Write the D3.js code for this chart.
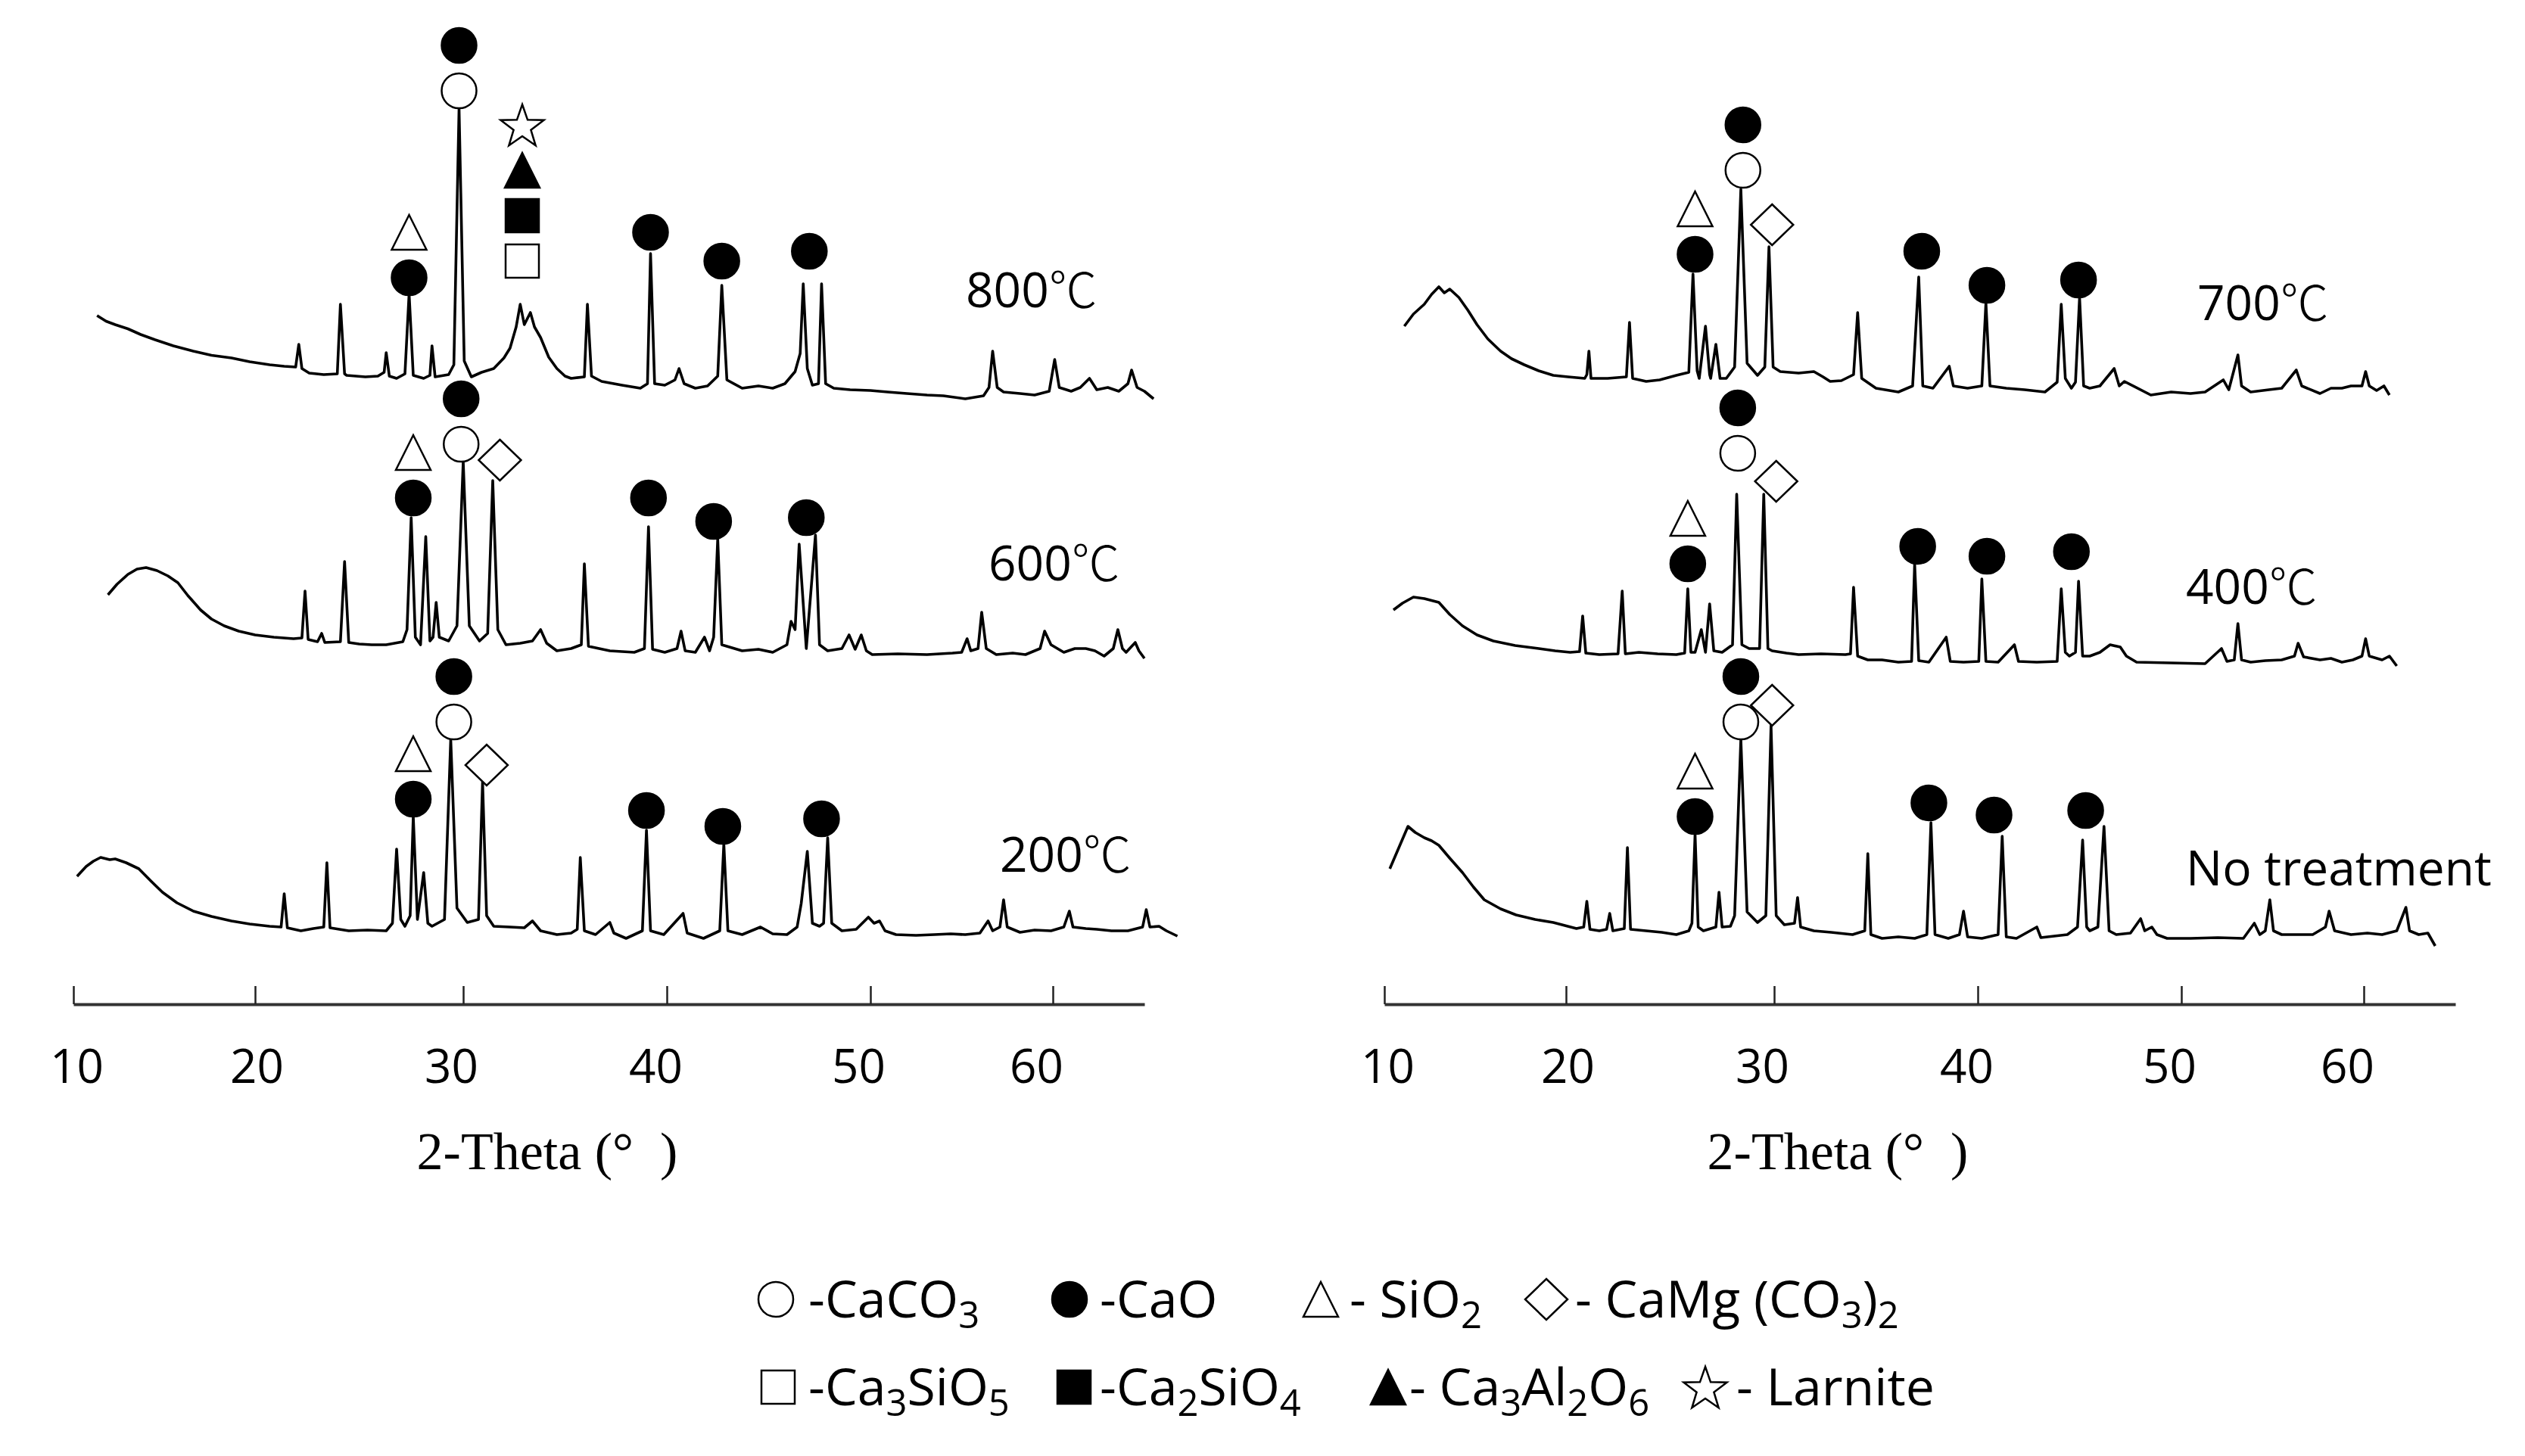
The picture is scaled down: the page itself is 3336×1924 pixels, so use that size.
<!DOCTYPE html>
<html>
<head>
<meta charset="utf-8">
<script src="https://cdn.jsdelivr.net/npm/d3@7"></script>
<style>
  body { margin: 0; background: #fff; }
  text { fill: #000; }
</style>
</head>
<body>
<div id="chart"></div>
<script>
// 2-theta tick labels (both panels share the same axis)
const thetaTicks = [10, 20, 30, 40, 50, 60];

// sample names and vertical offsets (counts) of the stacked patterns
const leftNames = ['800℃', '600℃', '200℃'];
const rightNames = ['700℃', '400℃', 'No treatment'];
const leftOffsets = [1600, 910, 174];
const rightOffsets = [1614, 910, 164];

// patterns: [2-theta, counts above the pattern's own offset]
const trace800 = [[11.3,220],[11.8,205],[12.3,196],[13.0,185],[13.7,170],[14.5,156],[15.5,140],[16.6,126],[17.6,115],[18.7,108],[19.7,98],[20.7,90],[21.4,86],
  [21.95,84],[22.1,144],[22.25,80],[22.6,68],[23.3,64],[23.95,66],[24.1,250],[24.3,66],[24.4,62],[25.3,58],[25.9,60],[26.2,70],[26.3,122],[26.45,60],[26.8,54],[27.2,66],[27.4,278],[27.6,62],[28.1,54],[28.4,62],[28.5,140],[28.65,58],[29.3,64],[29.55,90],[29.8,768],[30.05,100],[30.4,58],[30.9,70],[31.5,80],[32.0,108],[32.3,134],[32.6,190],[32.8,250],[33.0,196],[33.3,228],[33.5,190],[33.8,162],[34.2,110],[34.6,80],[35.0,60],[35.3,54],[35.95,58],[36.1,250],[36.3,60],[36.8,46],[37.8,36],[38.7,28],[39.05,40],[39.2,384],[39.4,40],[39.9,36],[40.4,50],[40.6,80],[40.85,40],[41.4,28],[42.0,34],[42.5,60],[42.7,300],[42.95,50],[43.7,28],[44.5,34],[45.2,28],[45.8,40],[46.3,72],[46.55,120],[46.7,304],[46.9,80],[47.15,36],[47.45,40],[47.6,304],[47.8,40],[48.2,28],[49.0,24],[50.0,22],[50.95,18],[52.0,14],[53.1,10],[54.0,8],[55.2,0],[56.2,8],[56.5,30],[56.7,126],[56.95,30],[57.3,18],[58.2,14],[59.0,10],[59.8,20],[60.1,104],[60.35,30],[61.0,20],[61.5,30],[62.0,54],[62.4,24],[63.0,30],[63.6,20],[64.1,40],[64.3,76],[64.6,30],[65.0,20],[65.5,0]];

const trace600 = [[11.9,172],[12.4,200],[13.0,226],[13.5,240],[14.0,244],[14.6,236],[15.2,222],[15.75,204],[16.3,170],[17.0,132],[17.6,108],[18.3,90],[19.1,76],[20.0,66],[20.9,60],[21.85,56],[22.25,58],[22.4,182],[22.55,54],[23.0,48],[23.2,70],[23.35,46],[24.1,48],[24.3,260],[24.5,46],[25.0,42],[25.6,40],[26.3,40],[27.1,48],[27.3,80],[27.5,376],[27.7,60],[27.95,40],[28.2,326],[28.4,50],[28.55,60],[28.7,152],[28.85,60],[29.3,50],[29.7,90],[30.0,524],[30.3,90],[30.8,50],[31.2,70],[31.45,474],[31.7,80],[32.1,40],[32.8,44],[33.4,50],[33.8,80],[34.1,44],[34.6,24],[35.3,30],[35.8,40],[35.95,254],[36.15,36],[37.2,24],[38.4,20],[38.9,30],[39.1,352],[39.3,28],[39.9,20],[40.5,30],[40.7,76],[40.9,24],[41.4,20],[41.85,60],[42.1,24],[42.3,60],[42.5,320],[42.7,40],[43.7,24],[44.5,28],[45.2,20],[45.9,40],[46.1,102],[46.3,80],[46.5,306],[46.85,30],[47.3,330],[47.5,40],[47.9,24],[48.6,30],[48.95,66],[49.25,28],[49.55,66],[49.8,24],[50.1,14],[51.5,16],[53.1,14],[54.5,18],[55.0,20],[55.3,56],[55.5,24],[55.9,30],[56.1,126],[56.35,30],[56.9,14],[57.8,18],[58.5,14],[59.3,30],[59.55,76],[59.9,40],[60.6,20],[61.2,30],[61.8,30],[62.3,24],[62.8,10],[63.3,30],[63.55,80],[63.8,30],[64.0,20],[64.5,46],[64.7,24],[65.0,4]];

const trace200 = [[10.2,164],[10.7,190],[11.1,204],[11.5,214],[12.0,208],[12.3,210],[12.9,200],[13.6,184],[14.3,150],[14.9,122],[15.7,94],[16.6,72],[17.6,58],[18.7,46],[19.7,38],[20.7,32],[21.25,30],[21.4,118],[21.55,28],[22.2,20],[22.8,26],[23.3,30],[23.45,200],[23.6,28],[24.5,20],[25.4,22],[26.3,20],[26.6,40],[26.8,236],[27.0,50],[27.2,32],[27.45,60],[27.6,322],[27.8,50],[28.1,174],[28.3,40],[28.5,32],[29.1,50],[29.4,526],[29.7,80],[30.2,42],[30.75,50],[30.95,414],[31.15,60],[31.5,32],[32.3,30],[33.0,28],[33.4,46],[33.8,20],[34.6,10],[35.3,14],[35.6,24],[35.75,214],[35.95,20],[36.5,10],[37.2,42],[37.4,14],[38.0,0],[38.8,20],[39.0,286],[39.2,20],[39.85,10],[40.8,66],[41.0,14],[41.8,0],[42.6,20],[42.8,250],[43.0,20],[43.7,10],[44.6,30],[45.2,12],[45.9,10],[46.4,30],[46.6,92],[46.9,230],[47.15,40],[47.5,32],[47.7,40],[47.9,266],[48.1,40],[48.6,20],[49.3,24],[49.9,56],[50.2,40],[50.5,46],[50.8,20],[51.4,10],[52.5,8],[53.5,10],[54.4,12],[55.2,10],[56.0,14],[56.45,46],[56.7,20],[57.1,30],[57.3,102],[57.5,30],[58.2,16],[59.0,22],[59.9,20],[60.6,30],[60.9,72],[61.1,30],[61.8,26],[62.4,24],[63.2,20],[64.1,20],[64.9,30],[65.1,76],[65.3,30],[65.8,32],[66.2,20],[66.8,6]];

const trace700 = [[11.1,178],[11.6,210],[12.2,236],[12.6,262],[13.0,282],[13.3,266],[13.6,276],[14.1,254],[14.6,220],[15.1,182],[15.7,144],[16.4,112],[17.0,92],[17.7,76],[18.5,60],[19.3,48],[20.1,44],[20.9,40],[21.0,50],[21.1,112],[21.2,40],[22.0,40],[22.9,44],[23.05,188],[23.2,40],[23.85,32],[24.5,36],[25.3,48],[25.9,56],[26.1,316],[26.3,60],[26.4,40],[26.7,178],[26.9,50],[26.95,40],[27.2,130],[27.4,40],[27.7,40],[28.1,70],[28.4,540],[28.7,80],[29.2,48],[29.55,70],[29.75,388],[29.95,70],[30.3,58],[31.2,54],[31.95,58],[32.4,44],[32.75,32],[33.3,34],[33.9,50],[34.1,214],[34.3,40],[35.0,14],[36.1,4],[36.8,20],[37.1,308],[37.3,20],[37.8,14],[38.6,72],[38.8,20],[39.5,14],[40.2,20],[40.4,240],[40.6,20],[41.4,14],[42.3,10],[43.3,4],[43.9,30],[44.1,236],[44.3,40],[44.6,14],[44.8,30],[45.0,254],[45.2,20],[45.5,14],[46.0,20],[46.7,66],[46.95,20],[47.2,32],[48.5,-4],[49.5,4],[50.5,0],[51.3,4],[52.3,36],[52.6,10],[53.1,102],[53.3,20],[53.8,4],[54.8,10],[55.5,14],[56.3,62],[56.6,20],[57.6,0],[58.2,14],[58.8,14],[59.3,20],[59.9,20],[60.1,58],[60.3,20],[60.7,8],[61.1,20],[61.4,-4]];

const trace400 = [[10.5,132],[11.0,150],[11.6,166],[12.2,162],[13.0,152],[13.6,120],[14.3,90],[15.1,66],[16.0,50],[17.2,38],[18.5,30],[19.4,24],[20.2,20],[20.65,22],[20.8,116],[20.95,18],[21.6,14],[22.5,16],[22.7,182],[22.85,16],[23.5,20],[24.4,16],[25.3,14],[25.7,18],[25.85,188],[26.0,20],[26.2,20],[26.5,80],[26.7,20],[26.9,148],[27.1,24],[27.5,20],[28.0,40],[28.2,438],[28.45,40],[28.8,30],[29.3,30],[29.5,438],[29.7,30],[29.9,24],[30.6,18],[31.2,14],[32.3,16],[33.5,14],[33.75,16],[33.9,192],[34.1,10],[34.6,0],[35.3,0],[36.1,-6],[36.75,-4],[36.9,254],[37.1,-2],[37.6,-6],[38.45,60],[38.65,-4],[39.3,-6],[40.05,-4],[40.2,214],[40.4,-4],[41.0,-6],[41.8,40],[42.0,-4],[42.9,-6],[43.9,-4],[44.1,188],[44.3,20],[44.5,10],[44.8,20],[44.95,208],[45.15,10],[45.5,10],[46.0,20],[46.5,40],[47.0,34],[47.3,10],[47.8,-6],[49.5,-8],[51.3,-10],[52.2,30],[52.5,-4],[52.9,0],[53.1,96],[53.3,0],[53.8,-6],[54.6,-2],[55.5,0],[56.2,10],[56.4,44],[56.7,8],[57.6,0],[58.2,4],[58.8,-6],[59.4,0],[59.9,10],[60.1,56],[60.3,10],[61.0,0],[61.4,10],[61.8,-16]];

const traceRaw = [[10.3,194],[10.8,250],[11.3,306],[11.7,290],[12.2,276],[12.6,268],[13.0,256],[13.6,222],[14.3,184],[14.9,146],[15.5,112],[16.4,88],[17.25,72],[18.3,60],[19.3,52],[20.5,36],[20.85,40],[21.0,108],[21.15,34],[21.6,30],[21.95,34],[22.1,76],[22.25,30],[22.8,36],[22.95,250],[23.1,34],[23.85,30],[24.6,26],[25.3,20],[25.9,30],[26.05,50],[26.2,286],[26.35,40],[26.6,30],[27.2,40],[27.35,132],[27.5,40],[27.9,42],[28.1,70],[28.4,536],[28.7,80],[29.2,52],[29.6,70],[29.85,572],[30.1,70],[30.5,46],[31.0,50],[31.15,118],[31.3,40],[31.95,30],[32.8,26],[33.85,20],[34.45,30],[34.6,234],[34.75,20],[35.3,10],[36.1,14],[36.9,10],[37.5,20],[37.7,316],[37.9,20],[38.55,10],[39.1,20],[39.3,82],[39.5,14],[40.2,10],[41.0,20],[41.2,280],[41.4,14],[41.9,10],[42.9,40],[43.1,12],[44.4,20],[44.9,40],[45.15,270],[45.35,40],[45.5,30],[45.9,40],[46.2,306],[46.45,30],[46.8,20],[47.5,24],[48.0,62],[48.2,30],[48.55,40],[48.8,20],[49.3,10],[50.5,10],[52.0,12],[53.4,10],[54.0,50],[54.3,20],[54.6,30],[54.85,112],[55.05,30],[55.5,20],[56.4,20],[57.2,20],[57.9,40],[58.1,82],[58.4,30],[59.3,20],[60.2,24],[61.0,20],[61.8,30],[62.3,92],[62.5,30],[63.0,20],[63.5,24],[63.9,-10]];

// phase markers: [2-theta, counts at the bottom of the stack, phases from bottom to top]
const markers800 = [[27.4,274,['CaO','SiO2']],[29.8,768,['CaCO3','CaO']],[32.9,320,['Ca3SiO5','Ca2SiO4','Ca3Al2O6','Larnite']],[39.2,394,['CaO']],[42.7,318,['CaO']],[47.0,344,['CaO']]];
const markers600 = [[27.6,382,['CaO','SiO2']],[29.9,524,['CaCO3','CaO']],[31.8,474,['CaMg']],[39.1,382,['CaO']],[42.3,320,['CaO']],[46.85,330,['CaO']]];
const markers200 = [[27.6,322,['CaO','SiO2']],[29.55,526,['CaCO3','CaO']],[31.15,404,['CaMg']],[39.0,292,['CaO']],[42.75,250,['CaO']],[47.6,270,['CaO']]];
const markers700 = [[26.2,322,['CaO','SiO2']],[28.5,544,['CaCO3','CaO']],[29.9,392,['CaMg']],[37.25,330,['CaO']],[40.45,240,['CaO']],[44.95,254,['CaO']]];
const markers400 = [[25.85,208,['CaO','SiO2']],[28.25,500,['CaCO3','CaO']],[30.1,418,['CaMg']],[37.05,254,['CaO']],[40.45,228,['CaO']],[44.6,240,['CaO']]];
const markersRaw = [[26.2,286,['CaO','SiO2']],[28.4,536,['CaCO3','CaO']],[29.9,572,['CaMg']],[37.6,322,['CaO']],[40.8,290,['CaO']],[45.3,302,['CaO']]];

// legend: phase key, label ("_n" = subscript digit)
const legendRow1 = [['CaCO3','-CaCO_3'],['CaO','-CaO'],['SiO2','- SiO_2'],['CaMg','- CaMg (CO_3)_2']];
const legendRow2 = [['Ca3SiO5','-Ca_3SiO_5'],['Ca2SiO4','-Ca_2SiO_4'],['Ca3Al2O6','- Ca_3Al_2O_6'],['Larnite','- Larnite']];

// ---------------------------------------------------------------
const width = 3336, height = 1924;
const sansFont = '"Open Sans", "Noto Sans", "Noto Sans CJK SC", sans-serif';
const cjkFont = '"Noto Sans CJK SC", "Noto Sans CJK JP", sans-serif';

const svg = d3.select('#chart').append('svg')
    .attr('width', width)
    .attr('height', height);

// symbol look per phase
const phaseStyle = {
    CaCO3: { shape: 'circle', fill: '#fff' },
    CaO: { shape: 'circle', fill: '#000' },
    SiO2: { shape: 'triangle', fill: '#fff' },
    CaMg: { shape: 'diamond', fill: '#fff' },
    Ca3SiO5: { shape: 'square', fill: '#fff' },
    Ca2SiO4: { shape: 'square', fill: '#000' },
    Ca3Al2O6: { shape: 'triangle', fill: '#000' },
    Larnite: { shape: 'star', fill: '#fff' }
};
const halfHeight = { circle: 23, triangle: 23, diamond: 27, square: 22, star: 28 };

function starPath(R, r) {
    const pts = [];
    for (let i = 0; i < 10; i++) {
        const a = -Math.PI / 2 + i * Math.PI / 5;
        const rad = i % 2 === 0 ? R : r;
        pts.push([rad * Math.cos(a), rad * Math.sin(a) + 3]);
    }
    return 'M' + pts.map(p => p.join(',')).join('L') + 'Z';
}

function shapePath(shape) {
    if (shape === 'circle') return d3.symbol().type(d3.symbolCircle).size(Math.PI * 23 * 23)();
    if (shape === 'square') return d3.symbol().type(d3.symbolSquare).size(44 * 44)();
    if (shape === 'triangle') return 'M0,-23L23,23L-23,23Z';
    if (shape === 'diamond') return 'M0,-27L28,0L0,27L-28,0Z';
    return starPath(30, 12);
}

function drawSymbol(g, phase, cx, cy) {
    const st = phaseStyle[phase];
    g.append('path')
        .attr('d', shapePath(st.shape))
        .attr('transform', `translate(${cx},${cy})`)
        .attr('fill', st.fill)
        .attr('stroke', '#000')
        .attr('stroke-width', 2.5)
        .attr('stroke-linejoin', 'miter');
}

// text with "_n" subscripts
function richText(sel, label) {
    const parts = label.split(/(_\d)/).filter(s => s.length);
    parts.forEach(p => {
        if (p.startsWith('_')) {
            sel.append('tspan').text(p.slice(1))
                .attr('font-size', '0.72em')
                .attr('dy', '0.28em');
        } else {
            const t = sel.append('tspan').text(p);
            if (sel.selectAll('tspan').size() > 1) t.attr('dy', '-0.2em');
        }
    });
}

// sample name, with the degree-Celsius sign set in the CJK face
function sampleLabel(sel, name) {
    const parts = name.split(/(℃)/).filter(s => s.length);
    parts.forEach(p => {
        const t = sel.append('tspan').text(p);
        if (p === '℃') t.attr('font-family', cjkFont).attr('font-weight', 300);
    });
}

// axis geometry: the printed axis is not evenly spaced, so use a piecewise scale
const axisDomain = thetaTicks.concat([65]);
const axisStops = [0, 240, 515, 784, 1053, 1294, 1415];
const labelShift = [4, 2, -16, -15, -16, -22];
const axisY = 1327;

const y = d3.scaleLinear().domain([0, 2600]).range([axisY, 27]);

const panels = [
    { origin: 97, titleX: 723, names: leftNames, offsets: leftOffsets,
      traces: [trace800, trace600, trace200], markers: [markers800, markers600, markers200],
      labelPos: [[1276, 406], [1306, 767], [1321, 1152]] },
    { origin: 1829, titleX: 2428, names: rightNames, offsets: rightOffsets,
      traces: [trace700, trace400, traceRaw], markers: [markers700, markers400, markersRaw],
      labelPos: [[2903, 423], [2888, 798], [2888, 1170]] }
];

panels.forEach(p => {
    const x = d3.scaleLinear()
        .domain(axisDomain)
        .range(axisStops.map(s => p.origin + s));

    const g = svg.append('g');

    // x axis with inward ticks
    const axis = d3.axisBottom(x)
        .tickValues(thetaTicks)
        .tickSize(-24)
        .tickSizeOuter(0)
        .tickPadding(60)
        .tickFormat(d3.format('d'));
    const ax = g.append('g')
        .attr('transform', `translate(0,${axisY})`)
        .call(axis);
    ax.select('.domain').attr('stroke', '#333').attr('stroke-width', 4);
    ax.selectAll('.tick line').attr('stroke', '#222').attr('stroke-width', 2.5);
    ax.selectAll('.tick text')
        .attr('font-family', sansFont)
        .attr('font-size', 62)
        .attr('fill', '#000')
        .attr('dx', (d, i) => labelShift[i]);

    g.append('text')
        .attr('x', p.titleX)
        .attr('y', 1545)
        .attr('text-anchor', 'middle')
        .attr('font-family', '"Liberation Serif", "DejaVu Serif", serif')
        .attr('font-size', 70)
        .style('white-space', 'pre')
        .text('2-Theta (°  )');

    p.traces.forEach((data, i) => {
        const off = p.offsets[i];
        const line = d3.line()
            .x(d => x(d[0]))
            .y(d => y(off + d[1]));

        g.append('path')
            .datum(data)
            .attr('d', line)
            .attr('fill', 'none')
            .attr('stroke', '#000')
            .attr('stroke-width', 3.6)
            .attr('stroke-linejoin', 'round');

        // phase markers stacked above the peaks
        p.markers[i].forEach(m => {
            let cy = y(off + m[1]);
            m[2].forEach((phase, k) => {
                const shape = phaseStyle[phase].shape;
                if (k === 0) cy -= halfHeight[shape];
                else cy -= 60;
                drawSymbol(g, phase, x(m[0]), cy);
            });
        });

        const t = g.append('text')
            .attr('x', p.labelPos[i][0])
            .attr('y', p.labelPos[i][1])
            .attr('font-family', sansFont)
            .attr('font-size', 64);
        sampleLabel(t, p.names[i]);
    });
});

// legend
const legendRows = [
    { items: legendRow1, y: 1717, symX: [1025, 1413, 1745, 2043], textX: [1068, 1453, 1783, 2081] },
    { items: legendRow2, y: 1833, symX: [1028, 1419, 1834, 2253], textX: [1068, 1453, 1862, 2294] }
];
const lg = svg.append('g');
legendRows.forEach(row => {
    row.items.forEach((it, i) => {
        drawSymbol(lg, it[0], row.symX[i], row.y);
        const t = lg.append('text')
            .attr('x', row.textX[i])
            .attr('y', row.y + 24)
            .attr('font-family', sansFont)
            .attr('font-size', 68)
            .style('white-space', 'pre');
        richText(t, it[1]);
    });
});
</script>
</body>
</html>
